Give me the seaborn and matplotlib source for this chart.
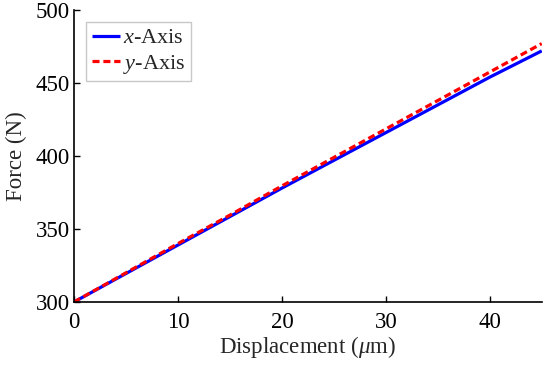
import pandas as pd
import seaborn as sns
import matplotlib.pyplot as plt

displacement = [0, 5, 10, 15, 20, 25, 30, 35, 40, 45]
force_x = [300, 319.5, 339, 358.5, 378, 397, 416, 435, 454, 472]
force_y = [300, 320, 340, 359.5, 379.5, 399, 418.5, 438, 457.5, 477]
series_names = ["$x$-Axis", "$y$-Axis"]

df = pd.concat([
    pd.DataFrame({"disp": displacement, "force": force_x, "axis": series_names[0]}),
    pd.DataFrame({"disp": displacement, "force": force_y, "axis": series_names[1]}),
])

sns.set_style("ticks")
plt.rcParams["font.family"] = ["Liberation Serif", "DejaVu Serif"]
plt.rcParams["mathtext.fontset"] = "custom"
plt.rcParams["mathtext.rm"] = "Liberation Serif"
plt.rcParams["mathtext.it"] = "Liberation Serif:italic"
plt.rcParams["xtick.direction"] = "in"
plt.rcParams["ytick.direction"] = "in"

fig = plt.figure(figsize=(5.5, 3.65), dpi=100)
ax = fig.add_axes([0.1345, 0.1726, 0.8505, 0.8])

ax = sns.lineplot(data=df, x="disp", y="force", hue="axis", style="axis",
                  palette=["#0000ff", "#ff0000"], dashes=[(1, 0), (2.2, 1.2)],
                  linewidth=2.3, ax=ax)

ax.set_xlim(0, 45)
ax.set_ylim(300, 500)
ax.set_xticks([0, 10, 20, 30, 40])
ax.set_yticks([300, 350, 400, 450, 500])
ax.tick_params(labelsize=16.5, length=4, width=1, colors="black")
ax.tick_params(axis="x", pad=7)
ax.tick_params(axis="y", pad=3)
ax.set_xlabel(r"Displacement ($\mu$m)", fontsize=16.5, labelpad=1)
ax.set_ylabel("Force (N)", fontsize=16.5, labelpad=6)
sns.despine(ax=ax)
for s in ["left", "bottom"]:
    ax.spines[s].set_linewidth(1.2)
    ax.spines[s].set_color("black")

leg = ax.legend(loc="upper left", fontsize=16, frameon=True, fancybox=False,
                handlelength=1.25, handletextpad=0.15, borderpad=0.25,
                labelspacing=0.2, borderaxespad=0.55)
leg.get_frame().set_edgecolor("#bbbbbb")
leg.get_frame().set_linewidth(1)

fig.savefig("out.png", dpi=100)
